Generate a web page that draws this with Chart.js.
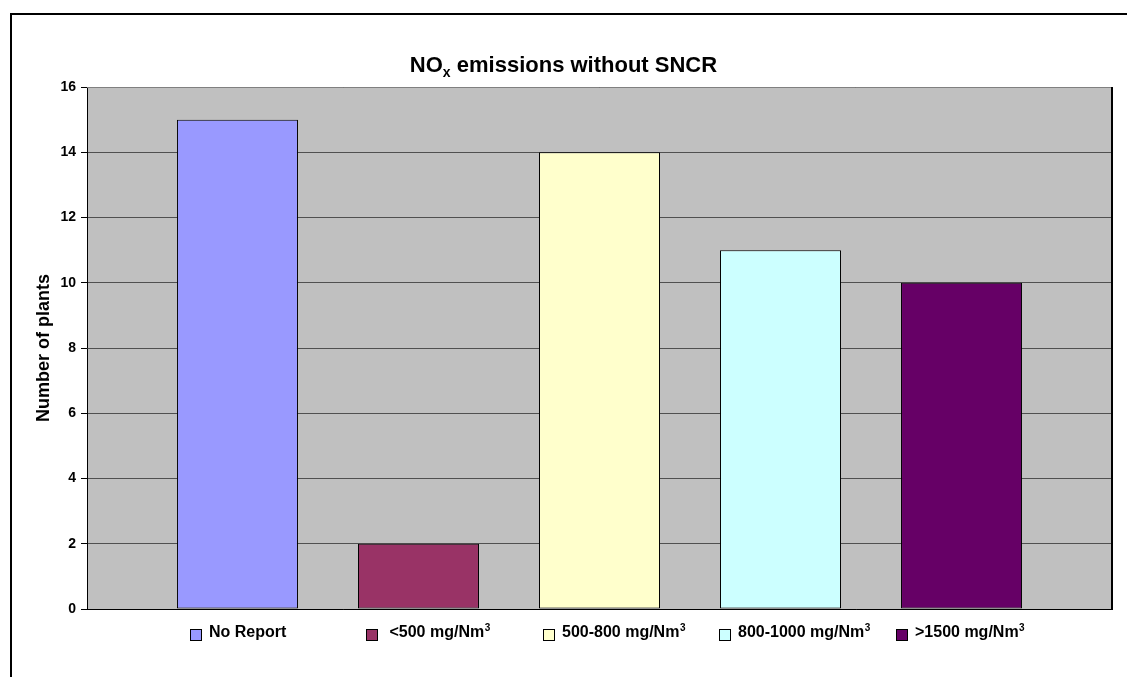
<!DOCTYPE html>
<html>
<head>
<meta charset="utf-8">
<script src="https://cdn.jsdelivr.net/npm/chart.js@4/dist/chart.umd.min.js"></script>
<style>
  html, body { margin: 0; padding: 0; background: #ffffff; }
  canvas { display: block; }
</style>
</head>
<body>
<canvas id="c" width="1127" height="677"></canvas>
<script>
// ---- data ----
const seriesLabels = ['No Report', ' <500 mg/Nm³', '500-800 mg/Nm³', '800-1000 mg/Nm³', '>1500 mg/Nm³'];
const seriesValues = [15, 2, 14, 11, 10];
const seriesColors = ['#9999FF', '#993366', '#FFFFCC', '#CCFFFF', '#660066'];
const yTicks = [0, 2, 4, 6, 8, 10, 12, 14, 16];
const titleMain = 'NO';
const titleSub = 'x';
const titleRest = ' emissions without SNCR';
const yAxisTitle = 'Number of plants';

const FONT = '"Liberation Sans", Arial, Helvetica, sans-serif';

const datasets = seriesLabels.map((lab, i) => ({
  label: lab,
  data: [seriesValues[i]],
  backgroundColor: seriesColors[i],
  borderColor: '#000000',
  borderWidth: 1,
  borderSkipped: false,
  categoryPercentage: 0.883,
  barPercentage: 0.6685
}));

const framePlugin = {
  id: 'frame',
  beforeDraw(chart) {
    const ctx = chart.ctx;
    const a = chart.chartArea;
    ctx.save();
    ctx.fillStyle = '#ffffff';
    ctx.fillRect(0, 0, chart.width, chart.height);
    ctx.strokeStyle = '#000000';
    ctx.lineWidth = 2;
    ctx.strokeRect(11, 14, chart.width + 20, chart.height + 20);
    ctx.fillStyle = '#C0C0C0';
    ctx.fillRect(a.left, a.top, a.right - a.left, a.bottom - a.top);
    ctx.restore();
  },
  afterDraw(chart) {
    const ctx = chart.ctx;
    const a = chart.chartArea;
    ctx.save();
    ctx.strokeStyle = '#808080';
    ctx.lineWidth = 1;
    ctx.beginPath();
    ctx.moveTo(a.left, a.top + 0.5);
    ctx.lineTo(a.right, a.top + 0.5);
    ctx.stroke();
    ctx.strokeStyle = '#000000';
    ctx.lineWidth = 2;
    ctx.beginPath();
    ctx.moveTo(a.right, a.top);
    ctx.lineTo(a.right, a.bottom);
    ctx.stroke();

    // title with subscript
    const fsz = 22;
    ctx.fillStyle = '#000000';
    ctx.textBaseline = 'alphabetic';
    ctx.textAlign = 'left';
    ctx.font = 'bold ' + fsz + 'px ' + FONT;
    const w1 = ctx.measureText(titleMain).width;
    const w3 = ctx.measureText(titleRest).width;
    const subSize = Math.round(fsz * 0.65);
    ctx.font = 'bold ' + subSize + 'px ' + FONT;
    const w2 = ctx.measureText(titleSub).width;
    const total = w1 + w2 + w3;
    let x = chart.width / 2 - total / 2;
    const base = 72;
    ctx.font = 'bold ' + fsz + 'px ' + FONT;
    ctx.fillText(titleMain, x, base);
    x += w1;
    ctx.font = 'bold ' + subSize + 'px ' + FONT;
    ctx.fillText(titleSub, x, base + 5);
    x += w2;
    ctx.font = 'bold ' + fsz + 'px ' + FONT;
    ctx.fillText(titleRest, x, base);

    // legend
    const step = (a.right - a.left) / 5.804;
    const startX = a.left + 102.6;
    const boxY = 629.5, box = 11, lbase = 637;
    chart.data.datasets.forEach((ds, i) => {
      const bx = Math.round(startX + i * step);
      ctx.fillStyle = ds.backgroundColor;
      ctx.fillRect(bx, boxY, box, box);
      ctx.strokeStyle = '#000000';
      ctx.lineWidth = 1;
      ctx.strokeRect(bx + 0.5, boxY, box, box);
      ctx.fillStyle = '#000000';
      let lab = ds.label;
      const tx = bx + 19;
      const hasSup = lab.endsWith('³');
      if (hasSup) lab = lab.slice(0, -1);
      ctx.font = 'bold 16px ' + FONT;
      ctx.fillText(lab, tx, lbase);
      if (hasSup) {
        const lw = ctx.measureText(lab).width;
        ctx.font = 'bold 10px ' + FONT;
        ctx.fillText('3', tx + lw + 0.5, lbase - 6);
      }
    });
    ctx.restore();
  }
};

new Chart(document.getElementById('c'), {
  type: 'bar',
  data: { labels: [''], datasets },
  plugins: [framePlugin],
  options: {
    responsive: false,
    animation: false,
    layout: { padding: { left: 0, top: 87, right: 15, bottom: 68 } },
    plugins: {
      legend: { display: false },
      title: { display: false },
      tooltip: { enabled: false }
    },
    scales: {
      x: {
        type: 'category',
        offset: true,
        grid: { display: false, drawTicks: false },
        ticks: { display: false },
        border: { display: true, color: '#000000', width: 1 },
        afterFit(s) { s.height = 0; }
      },
      y: {
        min: 0,
        max: 16,
        afterBuildTicks(s) { s.ticks = yTicks.map(v => ({ value: v })); },
        ticks: {
          color: '#000000',
          font: { family: FONT, size: 14, weight: 'bold' },
          padding: 5
        },
        grid: {
          color: '#505050',
          lineWidth: 1,
          tickColor: '#000000',
          tickLength: 6,
          drawTicks: true
        },
        border: { display: true, color: '#000000', width: 1 },
        title: {
          display: true,
          text: yAxisTitle,
          color: '#000000',
          font: { family: FONT, size: 18, weight: 'bold' },
          padding: { top: 33, bottom: 0 }
        },
        afterFit(s) { s.width = 87; }
      }
    }
  }
});
</script>
</body>
</html>
